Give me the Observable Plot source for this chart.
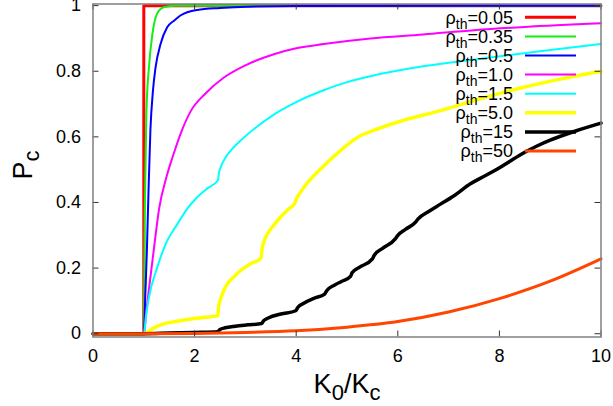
<!DOCTYPE html>
<html><head><meta charset="utf-8">
<script src="https://cdn.jsdelivr.net/npm/d3@7"></script>
<script src="https://cdn.jsdelivr.net/npm/@observablehq/plot@0.6"></script>
<style>body{margin:0;background:#fff}</style>
</head><body><div id="chart"></div>
<script>
// ---- data ----
const seriesLabels = ["0.05", "0.35", "0.5", "1.0", "1.5", "5.0", "15", "50"];
const seriesColors = ["#ff0000", "#11ee11", "#0000ff", "#ff00ff", "#00ffff", "#ffff00", "#000000", "#ff4500"];
const seriesWidths = [3, 2, 2, 2, 2, 3.5, 3.5, 3];

const x005 = [0, 1, 1, 10];
const y005 = [0, 0, 1, 1];

const x035 = [0, 1, 1.01, 1.02, 1.05, 1.1, 1.17, 1.26, 1.39, 1.6, 2, 10];
const y035 = [0, 0, 0.2, 0.375, 0.67, 0.81, 0.914, 0.975, 0.995, 1, 1, 1];

const x05 = [0, 1, 1.03, 1.06, 1.09, 1.13, 1.18, 1.23, 1.33, 1.46, 1.6, 1.72, 2.05, 2.5, 2.9, 4, 10];
const y05 = [0, 0, 0.12, 0.25, 0.42, 0.62, 0.74, 0.81, 0.883, 0.934, 0.955, 0.97, 0.987, 0.993, 0.996, 0.999, 1];

const x10 = [0, 1, 1.05, 1.13, 1.2, 1.3, 1.45, 1.57, 1.75, 1.93, 2.2, 2.57, 3, 3.56, 4, 4.54, 5.46, 6.5, 7.5, 8.5, 10];
const y10 = [0, 0, 0.07, 0.172, 0.26, 0.38, 0.48, 0.54, 0.62, 0.68, 0.73, 0.78, 0.818, 0.852, 0.87, 0.883, 0.9, 0.912, 0.925, 0.935, 0.946];

const x15 = [0, 1, 1.05, 1.1, 1.26, 1.45, 1.66, 1.85, 2.05, 2.25, 2.46, 2.48, 2.52, 2.6, 2.75, 2.9, 3.2, 3.56, 4, 4.54, 5, 5.46, 6.5, 7.63, 8.8, 10];
const y15 = [0, 0, 0.06, 0.11, 0.2, 0.28, 0.334, 0.38, 0.416, 0.443, 0.468, 0.49, 0.51, 0.535, 0.565, 0.588, 0.628, 0.668, 0.706, 0.742, 0.767, 0.785, 0.815, 0.838, 0.861, 0.883];

const x50 = [0, 1, 1.2, 1.39, 1.65, 1.92, 2.2, 2.46, 2.47, 2.5, 2.57, 2.64, 2.75, 2.9, 3.1, 3.31, 3.33, 3.4, 3.53, 3.69, 3.85, 3.97, 4.0, 4.08, 4.15, 4.48, 4.87, 5.27, 5.46, 6.1, 6.84, 7.6, 8.42, 9.2, 10];
const y50 = [0, 0, 0.018, 0.03, 0.038, 0.045, 0.05, 0.055, 0.08, 0.1, 0.13, 0.151, 0.17, 0.192, 0.213, 0.231, 0.26, 0.294, 0.325, 0.355, 0.38, 0.397, 0.41, 0.43, 0.446, 0.502, 0.558, 0.604, 0.616, 0.65, 0.68, 0.715, 0.749, 0.776, 0.8];

const x150 = [0, 1, 1.5, 2, 2.45, 2.5, 2.6, 2.8, 3.05, 3.32, 3.36, 3.45, 3.7, 3.99, 4.03, 4.15, 4.35, 4.56, 4.6, 4.75, 4.9, 5.07, 5.1, 5.25, 5.5, 5.54, 5.7, 5.95, 6.0, 6.15, 6.35, 6.4, 6.6, 6.84, 7.1, 7.43, 7.7, 7.96, 8.2, 8.5, 8.75, 9, 9.5, 10];
const y150 = [0, 0, 0.002, 0.004, 0.006, 0.013, 0.018, 0.023, 0.027, 0.031, 0.04, 0.048, 0.06, 0.07, 0.08, 0.093, 0.108, 0.121, 0.131, 0.148, 0.16, 0.175, 0.186, 0.203, 0.228, 0.24, 0.26, 0.289, 0.3, 0.318, 0.34, 0.35, 0.372, 0.395, 0.42, 0.457, 0.48, 0.502, 0.525, 0.553, 0.573, 0.59, 0.618, 0.642];

const x500 = [0, 1, 2, 3, 4, 5, 6, 7, 8, 9, 10];
const y500 = [0, 0, 0.001, 0.004, 0.009, 0.02, 0.037, 0.066, 0.107, 0.16, 0.228];

const seriesX = [x005, x035, x05, x10, x15, x50, x150, x500];
const seriesY = [y005, y035, y05, y10, y15, y50, y150, y500];

const xTicks = [0, 2, 4, 6, 8, 10];
const yTicks = [0, 0.2, 0.4, 0.6, 0.8, 1];

// ---- chart ----
const W = 613, H = 406;
const mL = 92.5, mR = 12.5, mT = 3.5, mB = 69.5;
const plotW = W - mL - mR, plotH = H - mT - mB;
const tickLen = 6;
const marks = [];
seriesX.forEach((xs, i) => {
  const rows = xs.map((x, j) => ({x, y: seriesY[i][j]}));
  marks.push(Plot.line(rows, {
    x: "x", y: "y",
    stroke: seriesColors[i],
    strokeWidth: seriesWidths[i],
    curve: i === 0 ? "linear" : "monotone-x"
  }));
});

const tickStroke = "#333";
marks.push(
  // inward ticks on all four sides (gnuplot style, mirrored)
  Plot.tickX(xTicks, {x: d => d, stroke: tickStroke, strokeWidth: 1, insetTop: plotH - tickLen}),
  Plot.tickX(xTicks, {x: d => d, stroke: tickStroke, strokeWidth: 1, insetBottom: plotH - tickLen}),
  Plot.tickY(yTicks, {y: d => d, stroke: tickStroke, strokeWidth: 1, insetRight: plotW - tickLen}),
  Plot.tickY(yTicks, {y: d => d, stroke: tickStroke, strokeWidth: 1, insetLeft: plotW - tickLen}),
  Plot.frame({stroke: "#808080", strokeWidth: 1.5}),
  Plot.axisX(xTicks, {anchor: "bottom", tickSize: 0, tickPadding: 12, label: null, fill: "#000", fontSize: 18, tickFormat: d => String(d)}),
  Plot.axisY(yTicks, {anchor: "left", tickSize: 0, tickPadding: 12, label: null, fill: "#000", fontSize: 18, tickFormat: d => String(d)})
);

const svg = Plot.plot({
  width: W, height: H,
  marginLeft: mL, marginRight: mR, marginTop: mT, marginBottom: mB,
  x: {domain: [0, 10]},
  y: {domain: [-0.01, 1.005]},
  style: {fontFamily: "'Liberation Sans', Arial, sans-serif", fontSize: "18px", color: "#000", background: "#fff"},
  marks
});
document.getElementById("chart").appendChild(svg);

// ---- axis titles and legend (text with sub-scripts) ----
const s = d3.select(svg);
const ff = "'Liberation Sans', Arial, sans-serif";

const xl = s.append("text").attr("x", 347).attr("y", 393).attr("text-anchor", "middle")
  .attr("font-family", ff).attr("font-size", 27).attr("fill", "#000");
xl.append("tspan").text("K");
xl.append("tspan").attr("dy", 7).attr("font-size", 22).text("0");
xl.append("tspan").attr("dy", -7).text("/K");
xl.append("tspan").attr("dy", 7).attr("font-size", 22).text("c");

const yl = s.append("text").attr("transform", "translate(32,165) rotate(-90)").attr("text-anchor", "middle")
  .attr("font-family", ff).attr("font-size", 27).attr("fill", "#000");
yl.append("tspan").text("P");
yl.append("tspan").attr("dy", 7).attr("font-size", 22).text("c");

const lg = s.append("g");
seriesLabels.forEach((lab, i) => {
  const ry = 17.3 + i * 19.1;
  const t = lg.append("text").attr("x", 513).attr("y", ry + 6.3).attr("text-anchor", "end")
    .attr("font-family", ff).attr("font-size", 18).attr("fill", "#000");
  t.append("tspan").text("ρ");
  t.append("tspan").attr("dy", 5).attr("font-size", 14).text("th");
  t.append("tspan").attr("dy", -5).text("=" + lab);
  lg.append("line").attr("x1", 525).attr("x2", 576).attr("y1", ry).attr("y2", ry)
    .attr("stroke", seriesColors[i]).attr("stroke-width", seriesWidths[i]);
});
</script>
</body></html>
